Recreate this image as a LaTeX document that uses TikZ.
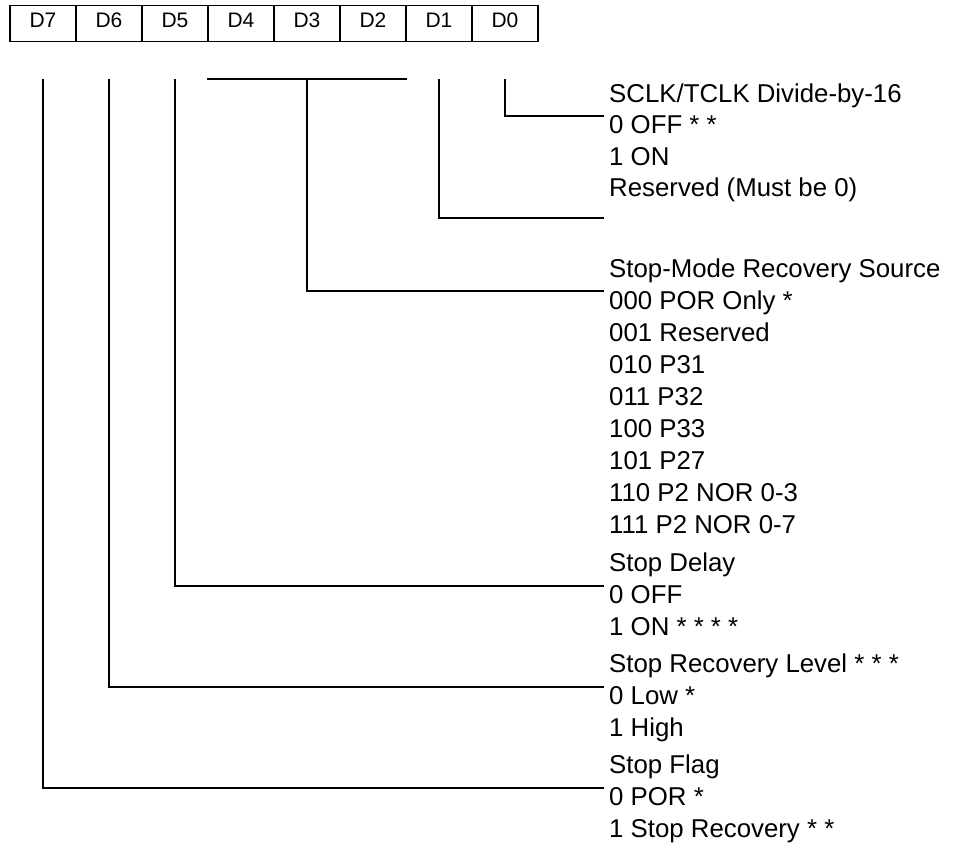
\documentclass[tikz,border=0pt]{standalone}
\usepackage{fontspec}
\setmainfont{Liberation Sans}
\begin{document}
\begin{tikzpicture}[x=1pt,y=-1pt,
  cell/.style={draw, line width=1.6pt, minimum width=66pt, minimum height=36pt,
    inner sep=0pt, text depth=6.6pt, font=\fontsize{21}{25}\selectfont},
  item/.style={anchor=base west, inner sep=0pt, font=\fontsize{25.8}{31}\selectfont},
  wire/.style={line width=1.1pt}]
\useasboundingbox (0,0) rectangle (954,844);

% register cells
\node[cell] (r7) at (43,23.5) {D7};
\node[cell] (r6) at (109,23.5) {D6};
\node[cell] (r5) at (175,23.5) {D5};
\node[cell] (r4) at (241,23.5) {D4};
\node[cell] (r3) at (307,23.5) {D3};
\node[cell] (r2) at (373,23.5) {D2};
\node[cell] (r1) at (439,23.5) {D1};
\node[cell] (r0) at (505,23.5) {D0};

% text column
\node[item] (a0) at (609,102)   {SCLK/TCLK Divide-by-16};
\node[item] (a1) at (609,133.5) {0 OFF * *};
\node[item] (a2) at (609,165)   {1 ON};
\node[item] (b0) at (609,196.5) {Reserved (Must be 0)};
\node[item] (c0) at (609,277)   {Stop-Mode Recovery Source};
\node[item] (c1) at (609,309)   {000 POR Only *};
\node[item] (c2) at (609,341)   {001 Reserved};
\node[item] (c3) at (609,373)   {010 P31};
\node[item] (c4) at (609,405)   {011 P32};
\node[item] (c5) at (609,437)   {100 P33};
\node[item] (c6) at (609,469)   {101 P27};
\node[item] (c7) at (609,501)   {110 P2 NOR 0-3};
\node[item] (c8) at (609,533)   {111 P2 NOR 0-7};
\node[item] (d0) at (609,571)   {Stop Delay};
\node[item] (d1) at (609,603)   {0 OFF};
\node[item] (d2) at (609,635.5) {1 ON * * * *};
\node[item] (f0) at (609,672.5) {Stop Recovery Level * * *};
\node[item] (f1) at (609,704.5) {0 Low *};
\node[item] (f2) at (609,736.5) {1 High};
\node[item] (g0) at (609,773.5) {Stop Flag};
\node[item] (g1) at (609,805.5) {0 POR *};
\node[item] (g2) at (609,837.5) {1 Stop Recovery * *};

% connector ends
\coordinate (top) at (0,79);
\coordinate (e0) at (604,116);
\coordinate (e1) at (604,218);
\coordinate (e3) at (604,291);
\coordinate (e5) at (604,586);
\coordinate (e6) at (604,687);
\coordinate (e7) at (604,788);

% connectors
\draw[wire, line width=1.6pt] (r0 |- top) |- (e0);
\draw[wire] (r1 |- top) |- (e1);
\draw[wire] (r4.west |- top) -- (r2.east |- top);
\draw[wire] (r3 |- top) |- (e3);
\draw[wire] (r5 |- top) |- (e5);
\draw[wire] (r6 |- top) |- (e6);
\draw[wire] (r7 |- top) |- (e7);
\end{tikzpicture}
\end{document}
